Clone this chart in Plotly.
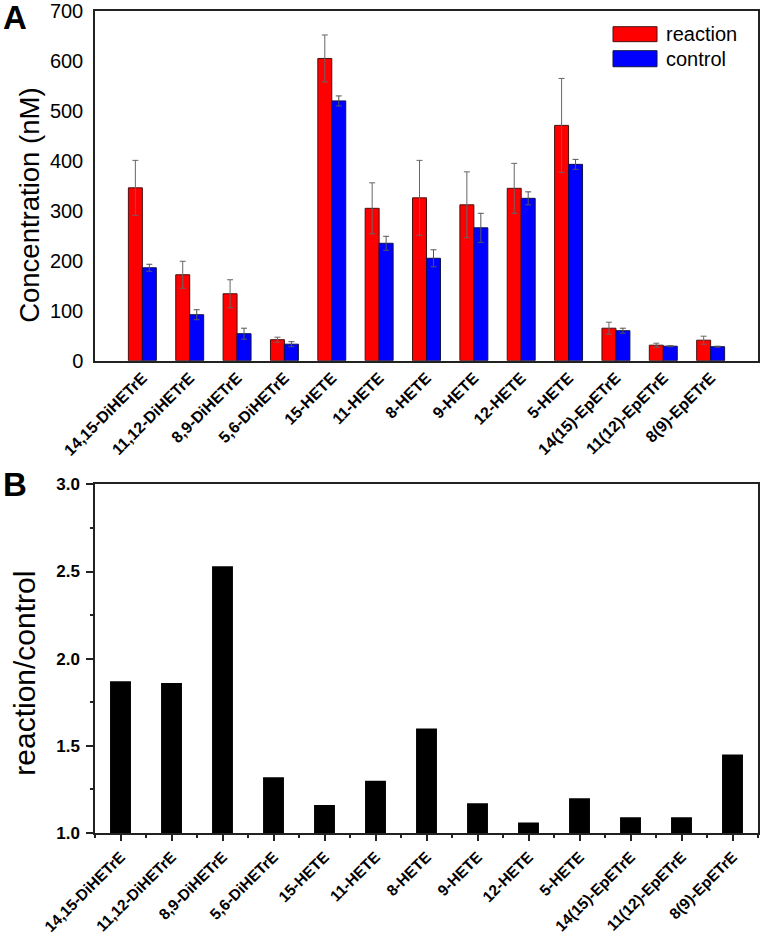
import plotly.graph_objects as go

categories = ["14,15-DiHETrE", "11,12-DiHETrE", "8,9-DiHETrE", "5,6-DiHETrE",
              "15-HETE", "11-HETE", "8-HETE", "9-HETE", "12-HETE", "5-HETE",
              "14(15)-EpETrE", "11(12)-EpETrE", "8(9)-EpETrE"]
reaction = [346, 172, 134, 42, 605, 305, 326, 312, 345, 471, 65, 31, 41]
reaction_err = [55, 27, 28, 5, 47, 51, 75, 66, 50, 94, 12, 4, 8]
control = [186, 92, 54, 33, 520, 235, 205, 266, 325, 393, 60, 29, 28]
control_err = [7, 10, 11, 5, 10, 14, 17, 29, 13, 10, 5, 1, 1]
ratio = [1.87, 1.86, 2.53, 1.32, 1.16, 1.30, 1.60, 1.17, 1.06, 1.20, 1.09, 1.09, 1.45]
y_ticks_a = [0, 100, 200, 300, 400, 500, 600, 700]
y_ticks_b = [1.0, 1.5, 2.0, 2.5, 3.0]

FONT = "Arial, 'Liberation Sans', sans-serif"
xpos = list(range(len(categories)))

fig = go.Figure()
fig.add_trace(go.Bar(
    x=xpos, y=reaction, name="reaction", xaxis="x", yaxis="y",
    marker=dict(color="#ff0000", line=dict(color="#4a1010", width=1)),
    error_y=dict(type="data", array=reaction_err, color="#666666", thickness=1, width=3),
))
fig.add_trace(go.Bar(
    x=xpos, y=control, name="control", xaxis="x", yaxis="y",
    marker=dict(color="#0000ff", line=dict(color="#10104a", width=1)),
    error_y=dict(type="data", array=control_err, color="#555555", thickness=1, width=3),
))
fig.add_trace(go.Bar(
    x=xpos, y=ratio, name="ratio", xaxis="x2", yaxis="y2",
    marker=dict(color="#000000", line=dict(width=0)), width=0.41,
))

axis_line = dict(showline=True, linecolor="#222222", linewidth=1.5, mirror=True,
                 showgrid=False, zeroline=False)

fig.update_layout(
    width=761, height=934,
    margin=dict(l=95, r=3, t=11, b=101, autoexpand=False),
    paper_bgcolor="white", plot_bgcolor="white",
    showlegend=False,
    barmode="group", bargap=0.41, bargroupgap=0,
    font=dict(family=FONT, color="black"),
    xaxis=dict(domain=[0, 1], anchor="y", range=[-1, 13],
               tickmode="array", tickvals=xpos, ticktext=categories,
               tickangle=-45, ticks="", ticklabelstandoff=0, automargin=False,
               tickfont=dict(family=FONT, size=16, weight="bold", color="black"),
               **axis_line),
    yaxis=dict(domain=[0.5746, 1], anchor="x", range=[0, 700],
               tickmode="array", tickvals=y_ticks_a, ticks="", ticklabelstandoff=6,
               automargin=False,
               tickfont=dict(family=FONT, size=20, color="black"),
               **axis_line),
    xaxis2=dict(domain=[0, 1], anchor="y2", range=[-0.5, 12.5],
                tickmode="array", tickvals=xpos, ticktext=categories,
                tickangle=-45, ticks="outside", ticklen=6, tickwidth=1.5, tickcolor="#222222",
                minor=dict(ticks="outside", tickvals=[i + 0.5 for i in range(-1, len(categories))],
                           ticklen=3, tickwidth=1.5, tickcolor="#222222"),
                ticklabelstandoff=1, automargin=False,
                tickfont=dict(family=FONT, size=15.5, weight="bold", color="black"),
                **axis_line),
    yaxis2=dict(domain=[0, 0.4241], anchor="x2", range=[1.0, 3.0],
                tickmode="array", tickvals=y_ticks_b,
                ticktext=[f"{v:.1f}" for v in y_ticks_b],
                ticks="outside", ticklen=7, tickwidth=1.5, tickcolor="#222222",
                minor=dict(ticks="outside", dtick=0.25, tick0=1.0, ticklen=3.5,
                           tickwidth=1.5, tickcolor="#222222"),
                ticklabelstandoff=3, automargin=False,
                tickfont=dict(family=FONT, size=17, weight="bold", color="black"),
                **axis_line),
)

# y-axis titles
fig.add_annotation(text="Concentration (nM)", xref="paper", yref="paper",
                   x=-0.098, y=0.763, xanchor="center", yanchor="middle",
                   textangle=-90, showarrow=False,
                   font=dict(family=FONT, size=27.5, color="black"))
fig.add_annotation(text="reaction/control", xref="paper", yref="paper",
                   x=-0.1056, y=0.195, xanchor="center", yanchor="middle",
                   textangle=-90, showarrow=False,
                   font=dict(family=FONT, size=30, color="black"))
# panel letters
fig.add_annotation(text="A", xref="paper", yref="paper", x=-0.1207, y=0.9918,
                   xanchor="center", yanchor="middle", showarrow=False,
                   font=dict(family=FONT, size=33, weight="bold", color="black"))
fig.add_annotation(text="B", xref="paper", yref="paper", x=-0.1207, y=0.4237,
                   xanchor="center", yanchor="middle", showarrow=False,
                   font=dict(family=FONT, size=33, weight="bold", color="black"))

# legend (drawn as swatches + labels)
legend_items = [("reaction", "#ff0000", "#4a1010", 0.9627, 0.9809, 0.9720),
                ("control", "#0000ff", "#10104a", 0.9322, 0.9517, 0.9420)]
for name, fill, edge, y0, y1, yc in legend_items:
    fig.add_shape(type="rect", xref="paper", yref="paper",
                  x0=0.7813, x1=0.8477, y0=y0, y1=y1,
                  fillcolor=fill, line=dict(color=edge, width=1))
    fig.add_annotation(text=name, xref="paper", yref="paper", x=0.8582, y=yc,
                       xanchor="left", yanchor="middle", showarrow=False,
                       font=dict(family=FONT, size=20, color="black"))

# remove the browser's default 8px body margin so the figure fills the window
fig.write_html("out.html", config={"displayModeBar": False},
               post_script="document.body.style.margin='0';document.body.style.overflow='hidden';")
